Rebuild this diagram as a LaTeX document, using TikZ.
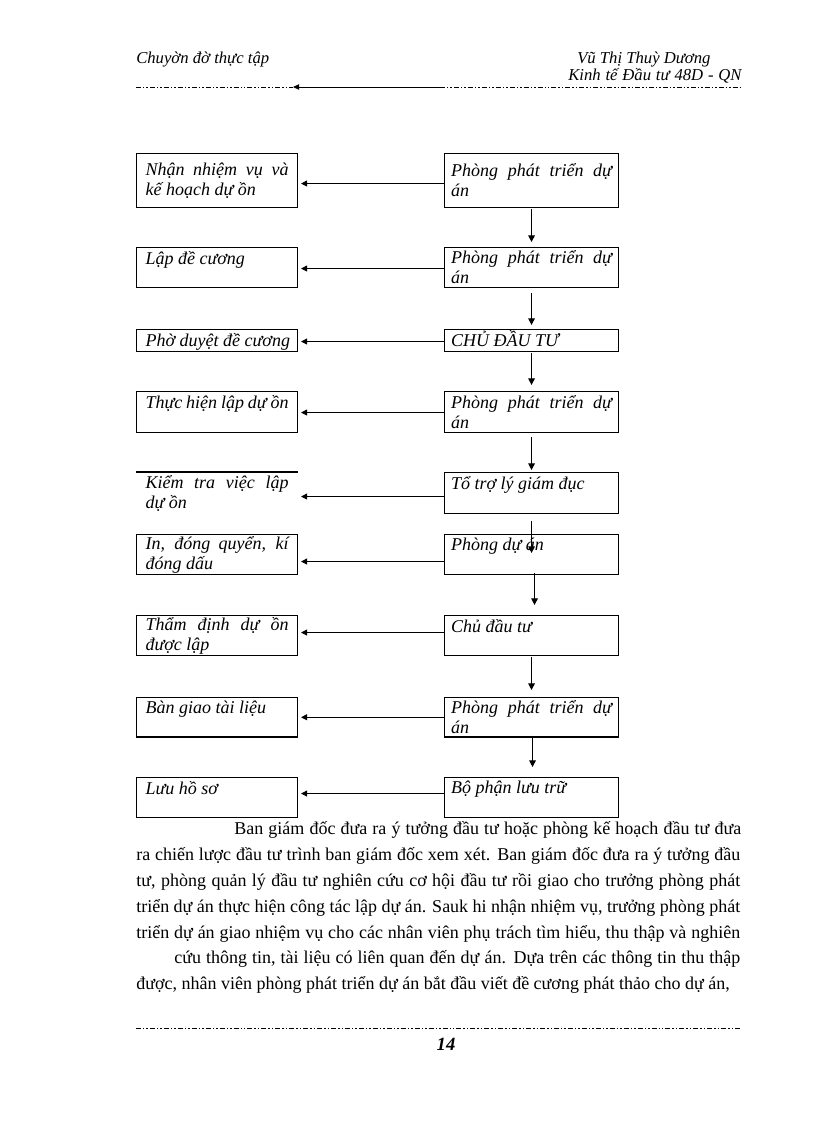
\documentclass[tikz,border=0pt]{standalone}
\usepackage{fontspec}
\setmainfont{Liberation Serif}
\usetikzlibrary{arrows.meta}
\newcommand\bxfont{\fontsize{13.5}{15}\selectfont\itshape}
\newcommand\prfont{\fontsize{13.5}{19}\selectfont}
\newcommand\hdfont{\fontsize{12.5}{15}\selectfont\itshape}
\tikzset{
  box/.style={draw, line width=0.8pt, anchor=north west, inner ysep=0pt, align=justify, font=\bxfont},
  lbox/.style={box, text width=107.25pt, inner xsep=6.75pt},
  rbox/.style={box, text width=120.75pt, inner xsep=4.875pt},
  onerow/.style={text height=11.5pt, text depth=2.5pt},
  harr/.style={-{Triangle[length=4.5pt,width=4.5pt]}, line width=0.7pt, shorten >=2.25pt},
  varr/.style={-{Triangle[length=5pt,width=5pt]}, line width=0.8pt},
  rulel/.style={line width=0.5pt, dash pattern=on 3.75pt off 1.5pt on 1.1pt off 1.5pt on 1.1pt off 1.5pt},
  para/.style={anchor=base west, inner sep=0pt, font=\prfont},
  hd/.style={anchor=base west, inner sep=0pt, font=\hdfont},
}
\begin{document}
\begin{tikzpicture}[x=0.75pt,y=-0.75pt]
\useasboundingbox (0,0) rectangle (816,1123);
% header
\node[hd] (h1) at (136,64) {Chuyờn đờ thực tập};
\node[hd] (h2) at (577,64) {Vũ Thị Thuỳ Dương};
\node[hd] (h3) at (568,81) {\makebox[130pt][s]{Kinh tế Đầu tư 48D - QN}};
\coordinate (hA) at (136,87);
\coordinate (hB) at (293,87);
\coordinate (hC) at (440,87);
\coordinate (hD) at (740,87);
\draw[rulel] (hA) -- (hB);
\draw[rulel] (hC) -- (hD);
\draw[-{Triangle[length=4.5pt,width=4pt]}, line width=0.6pt] (hC) -- (hB);
% left boxes
\node[lbox, minimum height=40.5pt] (L1) at (136,153) {Nhận nhiệm vụ và\linebreak kế hoạch dự ồn};
\node[lbox, minimum height=30pt] (L2) at (136,247) {Lập đề cương\\\mbox{}};
\node[lbox, minimum height=16.5pt, onerow] (L3) at (136,329) {\mbox{Phờ duyệt đề cương}};
\node[lbox, minimum height=30.75pt] (L4) at (136,391) {Thực hiện lập dự ồn\\\mbox{}};
\node[lbox, minimum height=30.75pt, draw=none] (L5) at (136,472) {Kiểm tra việc lập\linebreak dự ồn};
\draw[line width=0.8pt] (L5.north west) -- (L5.north east);
\node[lbox, minimum height=30pt] (L6) at (136,534) {In, đóng quyển, kí\linebreak đóng dấu};
\node[lbox, minimum height=30pt] (L7) at (136,615) {Thẩm định dự ồn\linebreak được lập};
\node[lbox, minimum height=29.6pt] (L8) at (136,697) {Bàn giao tài liệu\\\mbox{}};
\node[lbox, minimum height=30pt] (L9) at (136,777) {Lưu hồ sơ\\\mbox{}};
% right boxes
\node[rbox, minimum height=40.5pt] (R1) at (444,153) {Phòng phát triển dự\linebreak án};
\node[rbox, minimum height=30pt] (R2) at (444,247) {Phòng phát triển dự\linebreak án};
\node[rbox, minimum height=16.5pt, onerow] (R3) at (444,329) {CHỦ ĐẦU TƯ};
\node[rbox, minimum height=30.75pt] (R4) at (444,391) {Phòng phát triển dự\linebreak án};
\node[rbox, minimum height=30.75pt] (R5) at (444,472) {Tổ trợ lý giám đục\\\mbox{}};
\node[rbox, minimum height=30pt] (R6) at (444,534) {Phòng dự án\\\mbox{}};
\node[rbox, minimum height=30pt] (R7) at (444,615) {Chủ đầu tư\\\mbox{}};
\node[rbox, minimum height=29.6pt] (R8) at (444,697) {Phòng phát triển dự\linebreak án};
\node[rbox, minimum height=30pt] (R9) at (444,777) {Bộ phận lưu trữ\\\mbox{}};
% horizontal arrows
\draw[harr] ([shift={(0,3)}]R1.west) -- ([shift={(0,3)}]L1.east);
\draw[harr] ([shift={(0,1)}]R2.west) -- ([shift={(0,1)}]L2.east);
\draw[harr] ([shift={(0,1)}]R3.west) -- ([shift={(0,1)}]L3.east);
\draw[harr] ([shift={(0,0.5)}]R4.west) -- ([shift={(0,0.5)}]L4.east);
\draw[harr] ([shift={(0,3.5)}]R5.west) -- ([shift={(0,3.5)}]L5.east);
\draw[harr] ([shift={(0,7)}]R6.west) -- ([shift={(0,7)}]L6.east);
\draw[harr] ([shift={(0,-3)}]R7.west) -- ([shift={(0,-3)}]L7.east);
\draw[harr] ([shift={(0,0)}]R8.west) -- ([shift={(0,0)}]L8.east);
\draw[harr] ([shift={(0,-4)}]R9.west) -- ([shift={(0,-4)}]L9.east);
% vertical arrows
\draw[varr] ([shift={(0,1)}]R1.south) -- ([shift={(0,-5)}]R2.north);
\draw[varr] ([shift={(0,5)}]R2.south) -- ([shift={(0,-4)}]R3.north);
\draw[varr] ([shift={(0,1)}]R3.south) -- ([shift={(0,-6)}]R4.north);
\draw[varr] ([shift={(0,4)}]R4.south) -- ([shift={(0,-2)}]R5.north);
\draw[varr] ([shift={(0,7)}]R5.south) -- ([shift={(0,19)}]R6.north);
\draw[varr] ([shift={(3,-2)}]R6.south) -- ([shift={(3,-10)}]R7.north);
\draw[varr] ([shift={(0,1)}]R7.south) -- ([shift={(0,-7)}]R8.north);
\draw[varr] ([shift={(1,-2)}]R8.south) -- ([shift={(1,-10)}]R9.north);
% paragraph
\node[para] (p1) at (234,834) {\makebox[380.25pt][s]{Ban giám đốc đưa ra ý tưởng đầu tư hoặc phòng kế hoạch đầu tư đưa}};
\node[para] (p2) at (136,860) {\makebox[453pt][s]{ra chiến lược đầu tư trình ban giám đốc xem xét. Ban giám đốc đưa ra ý tưởng đầu}};
\node[para] (p3) at (136,886) {\makebox[453pt][s]{tư, phòng quản lý đầu tư nghiên cứu cơ hội đầu tư rồi giao cho trưởng phòng phát}};
\node[para] (p4) at (136,912) {\makebox[453pt][s]{triển dự án thực hiện công tác lập dự án. Sauk hi nhận nhiệm vụ, trưởng phòng phát}};
\node[para] (p5) at (136,938) {\makebox[453pt][s]{triển dự án giao nhiệm vụ cho các nhân viên phụ trách tìm hiểu, thu thập và nghiên}};
\node[para] (p6) at (174,963.5) {\makebox[424.5pt][s]{cứu thông tin, tài liệu có liên quan đến dự án. Dựa trên các thông tin thu thập}};
\node[para] (p7) at (136,989.5) {được, nhân viên phòng phát triển dự án bắt đầu viết đề cương phát thảo cho dự án,};
% footer
\coordinate (fA) at (136,1028);
\coordinate (fB) at (740,1028);
\draw[rulel] (fA) -- (fB);
\node[font=\fontsize{14}{16}\selectfont\bfseries\itshape, inner sep=0pt] (pg) at (446,1044) {14};
\end{tikzpicture}
\end{document}
